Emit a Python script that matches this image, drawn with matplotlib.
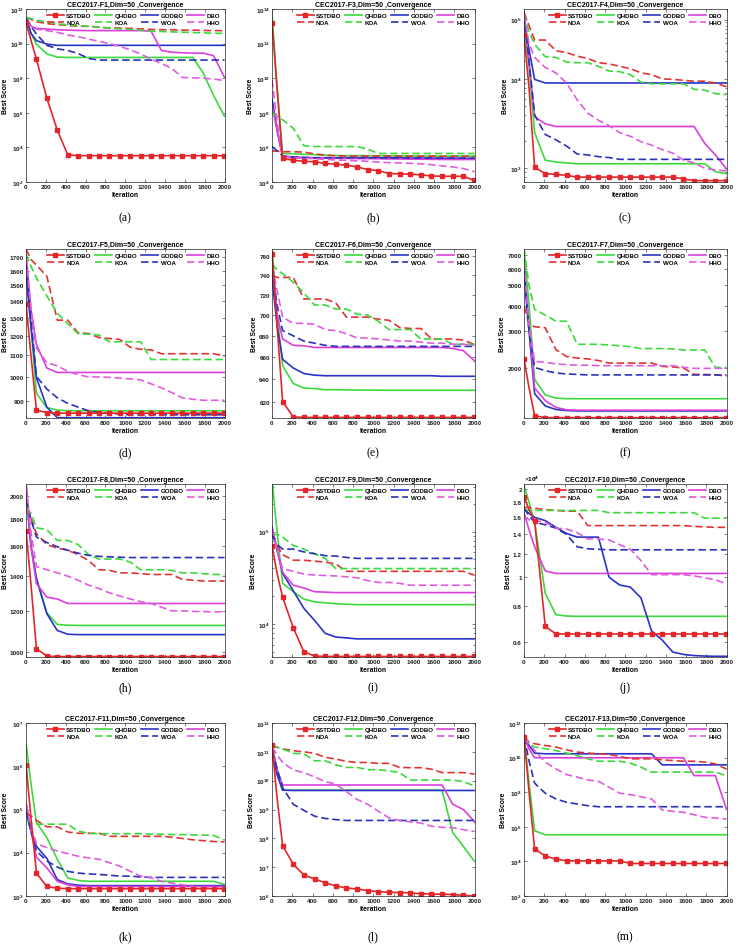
import numpy as np
import matplotlib
matplotlib.use('Agg')
import matplotlib.pyplot as plt
from matplotlib.ticker import FixedLocator, FuncFormatter, NullLocator

plt.rcParams['font.family'] = ['Liberation Sans', 'DejaVu Sans']
plt.rcParams['mathtext.fontset'] = 'custom'
plt.rcParams['mathtext.rm'] = 'Liberation Sans'
plt.rcParams['mathtext.bf'] = 'Liberation Sans:bold'

# ---------------- data ----------------
ITER = [1, 50, 105, 210, 315, 420, 525, 630, 735, 840, 945, 1050, 1155, 1260,
        1365, 1470, 1575, 1680, 1785, 1890, 1995, 2000]
ALGOS = ['SSTDBO', 'QHDBO', 'GODBO', 'DBO', 'NOA', 'KOA', 'WOA', 'HHO']
LEGEND_ORDER = ['SSTDBO', 'NOA', 'QHDBO', 'KOA', 'GODBO', 'WOA', 'DBO', 'HHO']

# F1 (log10 of best score)
F1_SSTDBO = [11.2, 10.2, 9.1, 6.85, 5.0, 3.58, 3.52, 3.52, 3.52, 3.52, 3.52, 3.52, 3.52, 3.52, 3.52, 3.52, 3.52, 3.52, 3.52, 3.52, 3.52, 3.52]
F1_QHDBO = [11.5, 10.6, 9.97, 9.4, 9.22, 9.2, 9.2, 9.2, 9.2, 9.2, 9.2, 9.2, 9.2, 9.2, 9.2, 9.2, 9.2, 9.2, 8.3, 7.0, 5.85, 5.8]
F1_GODBO = [11.5, 10.6, 10.17, 9.97, 9.9, 9.9, 9.9, 9.9, 9.9, 9.9, 9.9, 9.9, 9.9, 9.9, 9.9, 9.9, 9.9, 9.9, 9.9, 9.9, 9.9, 9.9]
F1_DBO = [11.5, 11.0, 10.88, 10.84, 10.8, 10.78, 10.76, 10.75, 10.75, 10.75, 10.75, 10.75, 10.75, 10.72, 9.6, 9.5, 9.47, 9.45, 9.45, 9.3, 8.1, 8.05]
F1_NOA = [11.5, 11.4, 11.27, 11.15, 11.1, 11.05, 11.0, 11.0, 10.95, 10.9, 10.9, 10.88, 10.85, 10.82, 10.8, 10.8, 10.78, 10.78, 10.76, 10.75, 10.75, 10.75]
F1_KOA = [11.5, 11.45, 11.35, 11.25, 11.15, 11.08, 11.03, 11.0, 10.95, 10.9, 10.85, 10.82, 10.78, 10.72, 10.7, 10.68, 10.66, 10.64, 10.62, 10.6, 10.59, 10.59]
F1_WOA = [11.45, 11.0, 10.55, 9.9, 9.7, 9.6, 9.43, 9.14, 9.05, 9.05, 9.05, 9.05, 9.05, 9.05, 9.05, 9.05, 9.05, 9.05, 9.05, 9.05, 9.05, 9.05]
F1_HHO = [11.3, 11.0, 10.84, 10.75, 10.65, 10.5, 10.4, 10.26, 10.13, 10.0, 9.84, 9.64, 9.4, 9.1, 8.85, 8.56, 8.04, 8.02, 8.0, 7.95, 7.87, 7.86]

# F3 (log10)
F3_SSTDBO = [13.18, 9.4, 5.36, 5.26, 5.2, 5.17, 5.07, 5.03, 4.97, 4.87, 4.72, 4.66, 4.49, 4.47, 4.45, 4.41, 4.35, 4.33, 4.33, 4.33, 4.1, 4.08]
F3_QHDBO = [13.7, 9.5, 5.65, 5.63, 5.6, 5.58, 5.55, 5.53, 5.52, 5.52, 5.52, 5.52, 5.51, 5.51, 5.51, 5.5, 5.5, 5.5, 5.5, 5.5, 5.5, 5.5]
F3_GODBO = [8.8, 7.0, 5.45, 5.42, 5.4, 5.4, 5.4, 5.4, 5.4, 5.4, 5.4, 5.4, 5.4, 5.4, 5.38, 5.38, 5.38, 5.37, 5.37, 5.36, 5.36, 5.36]
F3_DBO = [8.4, 7.0, 5.5, 5.45, 5.42, 5.4, 5.4, 5.38, 5.36, 5.35, 5.35, 5.34, 5.33, 5.33, 5.32, 5.32, 5.31, 5.3, 5.3, 5.3, 5.3, 5.3]
F3_NOA = [5.8, 5.78, 5.75, 5.75, 5.73, 5.62, 5.55, 5.52, 5.5, 5.5, 5.5, 5.5, 5.5, 5.49, 5.49, 5.49, 5.49, 5.48, 5.48, 5.48, 5.48, 5.48]
F3_KOA = [8.0, 7.8, 7.6, 7.1, 6.1, 6.05, 6.05, 6.05, 6.05, 6.05, 5.9, 5.65, 5.65, 5.65, 5.65, 5.65, 5.65, 5.65, 5.65, 5.65, 5.65, 5.65]
F3_WOA = [6.05, 5.8, 5.5, 5.45, 5.42, 5.4, 5.4, 5.4, 5.4, 5.4, 5.4, 5.4, 5.39, 5.39, 5.39, 5.39, 5.38, 5.38, 5.38, 5.38, 5.38, 5.38]
F3_HHO = [9.9, 7.5, 5.45, 5.4, 5.37, 5.35, 5.3, 5.28, 5.25, 5.22, 5.2, 5.15, 5.12, 5.1, 5.08, 5.05, 5.0, 4.93, 4.87, 4.78, 4.6, 4.58]

# F4 (log10)
F4_SSTDBO = [4.74, 3.9, 3.01, 2.94, 2.93, 2.92, 2.9, 2.9, 2.9, 2.9, 2.9, 2.9, 2.9, 2.9, 2.9, 2.9, 2.88, 2.86, 2.86, 2.86, 2.86, 2.86]
F4_QHDBO = [4.95, 4.2, 3.4, 3.09, 3.07, 3.06, 3.05, 3.05, 3.05, 3.05, 3.05, 3.05, 3.05, 3.05, 3.05, 3.05, 3.05, 3.05, 3.05, 2.96, 2.94, 2.94]
F4_GODBO = [5.0, 4.5, 4.0, 3.96, 3.96, 3.96, 3.96, 3.96, 3.96, 3.96, 3.96, 3.96, 3.96, 3.96, 3.96, 3.96, 3.96, 3.96, 3.96, 3.96, 3.96, 3.96]
F4_DBO = [5.1, 4.3, 3.58, 3.5, 3.47, 3.47, 3.47, 3.47, 3.47, 3.47, 3.47, 3.47, 3.47, 3.47, 3.47, 3.47, 3.47, 3.47, 3.28, 3.15, 3.0, 2.99]
F4_NOA = [5.12, 4.9, 4.66, 4.66, 4.48, 4.45, 4.39, 4.35, 4.28, 4.26, 4.22, 4.18, 4.11, 4.08, 4.01, 4.0, 3.99, 3.98, 3.98, 3.96, 3.92, 3.91]
F4_KOA = [5.1, 4.8, 4.59, 4.38, 4.37, 4.29, 4.28, 4.28, 4.22, 4.14, 4.13, 4.08, 3.97, 3.95, 3.95, 3.95, 3.95, 3.89, 3.88, 3.84, 3.83, 3.83]
F4_WOA = [5.1, 4.3, 3.6, 3.38, 3.32, 3.25, 3.16, 3.15, 3.13, 3.12, 3.1, 3.1, 3.1, 3.1, 3.1, 3.1, 3.1, 3.1, 3.1, 3.1, 3.1, 3.1]
F4_HHO = [5.1, 4.6, 4.37, 4.2, 4.11, 3.96, 3.77, 3.62, 3.54, 3.48, 3.4, 3.36, 3.3, 3.26, 3.21, 3.17, 3.09, 3.06, 3.0, 2.98, 2.97, 2.97]

# F5 (best score)
F5_SSTDBO = [1380, 1100, 864, 854, 852, 852, 852, 852, 852, 852, 852, 852, 852, 852, 852, 852, 852, 852, 852, 852, 852, 852]
F5_QHDBO = [1650, 1250, 930, 873, 864, 861, 861, 861, 861, 861, 861, 861, 861, 861, 861, 861, 861, 861, 861, 861, 861, 861]
F5_GODBO = [1560, 1250, 997, 875, 835, 835, 835, 835, 835, 835, 835, 835, 835, 835, 835, 835, 835, 835, 835, 835, 835, 835]
F5_DBO = [1720, 1350, 1155, 1040, 1020, 1020, 1020, 1020, 1020, 1020, 1020, 1020, 1020, 1020, 1020, 1020, 1020, 1020, 1020, 1020, 1020, 1020]
F5_NOA = [1760, 1680, 1640, 1560, 1285, 1285, 1215, 1212, 1190, 1185, 1180, 1140, 1130, 1127, 1108, 1108, 1108, 1108, 1108, 1108, 1097, 1095]
F5_KOA = [1720, 1630, 1550, 1430, 1325, 1265, 1210, 1208, 1203, 1168, 1168, 1168, 1168, 1080, 1080, 1080, 1080, 1080, 1080, 1080, 1080, 1080]
F5_WOA = [1630, 1300, 1002, 948, 912, 890, 875, 861, 855, 851, 849, 846, 846, 846, 846, 846, 846, 846, 846, 846, 846, 846]
F5_HHO = [1690, 1350, 1137, 1065, 1050, 1025, 1010, 1000, 1000, 998, 995, 991, 987, 970, 953, 933, 912, 906, 902, 902, 902, 902]

# F6
F6_SSTDBO = [763, 690, 620, 607, 606.5, 606.5, 606.5, 606.5, 606.5, 606.5, 606.5, 606.5, 606.5, 606.5, 606.5, 606.5, 606.5, 606.5, 606.5, 606.5, 606.5, 606.5]
F6_QHDBO = [768, 700, 652, 636, 632, 631.5, 630.5, 630.5, 630.3, 630.2, 630.2, 630.1, 630, 630, 630, 630, 630, 630, 630, 630, 630, 630]
F6_GODBO = [737, 690, 658, 650, 645, 643.5, 643, 643, 643, 643, 643, 643, 643, 643, 643, 643, 643, 642.5, 642.5, 642.5, 642.5, 642.5]
F6_DBO = [752, 700, 677, 671, 670.5, 669, 669, 669, 669, 669, 669, 669, 669, 669, 669, 669, 669, 669, 668, 666, 657, 656]
F6_NOA = [740, 738, 738, 738, 716, 716, 716, 712, 698, 698, 698, 696, 695, 688, 687, 687, 677, 677, 677, 676, 672, 671]
F6_KOA = [752, 746, 742, 733, 722, 710, 710, 706, 706, 701, 700, 694, 686, 686, 686, 677, 677, 677, 672, 672, 672, 672]
F6_WOA = [745, 710, 685, 680, 675, 673, 671, 670, 670, 670, 670, 670, 670, 670, 670, 670, 670, 670, 670, 670, 670, 670]
F6_HHO = [750, 725, 698, 692, 692, 691, 686, 685, 682, 678, 678, 677, 676, 675, 675, 674, 673, 673, 672, 672, 671, 671]

# F7
F7_SSTDBO = [2200, 1600, 1177, 1150, 1150, 1150, 1150, 1150, 1150, 1150, 1150, 1150, 1150, 1150, 1150, 1150, 1150, 1150, 1150, 1150, 1150, 1150]
F7_QHDBO = [7500, 4000, 1760, 1480, 1430, 1420, 1420, 1420, 1420, 1420, 1420, 1420, 1420, 1420, 1420, 1420, 1420, 1420, 1420, 1420, 1420, 1420]
F7_GODBO = [5550, 3000, 1500, 1310, 1260, 1245, 1240, 1240, 1240, 1240, 1240, 1240, 1240, 1240, 1240, 1240, 1240, 1240, 1240, 1240, 1240, 1240]
F7_DBO = [6200, 3200, 1600, 1390, 1290, 1255, 1250, 1250, 1250, 1250, 1250, 1250, 1250, 1250, 1250, 1250, 1250, 1250, 1250, 1250, 1250, 1250]
F7_NOA = [3970, 3270, 3160, 3125, 2450, 2270, 2230, 2210, 2170, 2110, 2110, 2110, 2110, 2110, 2035, 2020, 2000, 1860, 1860, 1850, 1830, 1830]
F7_KOA = [7500, 5000, 3830, 3600, 3360, 3360, 2600, 2600, 2600, 2580, 2560, 2530, 2480, 2480, 2480, 2470, 2440, 2440, 2440, 2010, 2010, 2010]
F7_WOA = [6000, 3000, 2010, 1940, 1890, 1870, 1860, 1850, 1850, 1850, 1850, 1850, 1850, 1850, 1850, 1850, 1850, 1850, 1850, 1850, 1850, 1850]
F7_HHO = [6400, 3200, 2150, 2130, 2090, 2075, 2060, 2060, 2050, 2050, 2050, 2050, 2050, 2050, 2050, 2050, 2015, 1990, 1990, 1990, 1990, 1990]

# F8
F8_SSTDBO = [1710, 1350, 1015, 982, 980, 980, 980, 980, 980, 980, 980, 980, 980, 980, 980, 980, 980, 980, 980, 980, 980, 980]
F8_QHDBO = [1990, 1600, 1385, 1190, 1130, 1126, 1125, 1125, 1125, 1125, 1125, 1125, 1125, 1125, 1125, 1125, 1125, 1125, 1125, 1125, 1125, 1125]
F8_GODBO = [2070, 1600, 1385, 1185, 1100, 1082, 1080, 1080, 1080, 1080, 1080, 1080, 1080, 1080, 1080, 1080, 1080, 1080, 1080, 1080, 1080, 1080]
F8_DBO = [2100, 1600, 1355, 1275, 1265, 1240, 1240, 1240, 1240, 1240, 1240, 1240, 1240, 1240, 1240, 1240, 1240, 1240, 1240, 1240, 1240, 1240]
F8_NOA = [1890, 1810, 1690, 1610, 1585, 1570, 1540, 1500, 1440, 1436, 1420, 1420, 1415, 1410, 1410, 1410, 1380, 1375, 1370, 1370, 1370, 1370]
F8_KOA = [1890, 1850, 1735, 1720, 1640, 1640, 1610, 1540, 1510, 1510, 1510, 1490, 1440, 1440, 1440, 1435, 1420, 1420, 1415, 1410, 1410, 1410]
F8_WOA = [1960, 1800, 1665, 1625, 1595, 1570, 1550, 1535, 1528, 1525, 1522, 1520, 1520, 1520, 1520, 1520, 1520, 1520, 1520, 1520, 1520, 1520]
F8_HHO = [2100, 1700, 1460, 1440, 1420, 1400, 1375, 1345, 1325, 1300, 1282, 1265, 1250, 1240, 1220, 1200, 1200, 1197, 1196, 1195, 1195, 1195]

# F9 (log10)
F9_SSTDBO = [4.84, 4.55, 4.29, 3.96, 3.7, 3.655, 3.65, 3.65, 3.65, 3.65, 3.65, 3.65, 3.65, 3.65, 3.65, 3.65, 3.65, 3.65, 3.65, 3.65, 3.65, 3.65]
F9_QHDBO = [5.55, 5.0, 4.44, 4.35, 4.27, 4.24, 4.23, 4.22, 4.215, 4.21, 4.21, 4.21, 4.21, 4.21, 4.21, 4.21, 4.21, 4.21, 4.21, 4.21, 4.21, 4.21]
F9_GODBO = [5.05, 4.8, 4.55, 4.36, 4.17, 4.04, 3.9, 3.86, 3.85, 3.84, 3.84, 3.84, 3.84, 3.84, 3.84, 3.84, 3.84, 3.84, 3.84, 3.84, 3.84, 3.84]
F9_DBO = [5.03, 4.8, 4.56, 4.42, 4.39, 4.35, 4.345, 4.34, 4.34, 4.34, 4.34, 4.34, 4.34, 4.34, 4.34, 4.34, 4.34, 4.34, 4.34, 4.34, 4.34, 4.34]
F9_NOA = [4.96, 4.85, 4.75, 4.69, 4.69, 4.68, 4.67, 4.65, 4.57, 4.57, 4.57, 4.57, 4.57, 4.57, 4.57, 4.57, 4.57, 4.57, 4.57, 4.57, 4.53, 4.53]
F9_KOA = [4.96, 4.97, 4.94, 4.85, 4.81, 4.76, 4.71, 4.6, 4.6, 4.6, 4.6, 4.6, 4.6, 4.6, 4.6, 4.6, 4.6, 4.6, 4.6, 4.6, 4.6, 4.6]
F9_WOA = [4.96, 4.86, 4.81, 4.81, 4.78, 4.76, 4.74, 4.735, 4.72, 4.71, 4.71, 4.71, 4.71, 4.71, 4.71, 4.71, 4.71, 4.71, 4.71, 4.71, 4.71, 4.71]
F9_HHO = [5.03, 4.8, 4.6, 4.57, 4.54, 4.53, 4.525, 4.52, 4.51, 4.5, 4.47, 4.45, 4.45, 4.44, 4.42, 4.42, 4.42, 4.42, 4.42, 4.42, 4.42, 4.42]

# F10 (best score)
F10_SSTDBO = [18800, 17000, 15500, 6800, 6400, 6400, 6400, 6400, 6400, 6400, 6400, 6400, 6400, 6400, 6400, 6400, 6400, 6400, 6400, 6400, 6400, 6400]
F10_QHDBO = [20500, 18000, 15400, 8800, 7450, 7370, 7350, 7350, 7350, 7350, 7350, 7350, 7350, 7350, 7350, 7350, 7350, 7350, 7350, 7350, 7350, 7350]
F10_GODBO = [17000, 16500, 16000, 15600, 14800, 14100, 13700, 13700, 13700, 10000, 9400, 9250, 8500, 6550, 6100, 5550, 5450, 5400, 5380, 5370, 5370, 5370]
F10_DBO = [16600, 14500, 12700, 10500, 10300, 10300, 10300, 10300, 10300, 10300, 10300, 10300, 10300, 10300, 10300, 10300, 10300, 10300, 10300, 10300, 10300, 10300]
F10_NOA = [17300, 17300, 17200, 17000, 16900, 16800, 16800, 15000, 15000, 15000, 15000, 15000, 15000, 15000, 15000, 15000, 15000, 14900, 14850, 14800, 14800, 14800]
F10_KOA = [17000, 16900, 16900, 16900, 16900, 16900, 16900, 16900, 16900, 16600, 16600, 16600, 16600, 16600, 16600, 16600, 16600, 16600, 15900, 15900, 15900, 15900]
F10_WOA = [17200, 16200, 15400, 15100, 14700, 14000, 12700, 12500, 12450, 12400, 12400, 12400, 12400, 12400, 12400, 12400, 12400, 12400, 12400, 12400, 12400, 12400]
F10_HHO = [16200, 15700, 15600, 15400, 14700, 14600, 14200, 13500, 13500, 13400, 12900, 12450, 11400, 10200, 10200, 10200, 10200, 10100, 9950, 9800, 9500, 9500]

# F11 (log10)
F11_SSTDBO = [6.04, 4.8, 3.53, 3.22, 3.18, 3.17, 3.17, 3.17, 3.17, 3.17, 3.17, 3.17, 3.17, 3.17, 3.17, 3.17, 3.17, 3.17, 3.17, 3.17, 3.17, 3.17]
F11_QHDBO = [6.52, 5.6, 4.7, 4.35, 3.85, 3.42, 3.36, 3.34, 3.34, 3.34, 3.34, 3.34, 3.34, 3.34, 3.34, 3.34, 3.34, 3.34, 3.34, 3.34, 3.27, 3.27]
F11_GODBO = [4.93, 4.5, 4.15, 3.87, 3.38, 3.28, 3.25, 3.24, 3.24, 3.24, 3.24, 3.24, 3.24, 3.24, 3.24, 3.24, 3.24, 3.24, 3.24, 3.24, 3.24, 3.24]
F11_DBO = [5.16, 4.5, 3.9, 3.65, 3.34, 3.26, 3.22, 3.22, 3.22, 3.22, 3.22, 3.22, 3.22, 3.22, 3.22, 3.22, 3.22, 3.22, 3.22, 3.22, 3.22, 3.22]
F11_NOA = [4.92, 4.85, 4.75, 4.6, 4.6, 4.48, 4.45, 4.45, 4.45, 4.38, 4.38, 4.38, 4.38, 4.38, 4.38, 4.36, 4.33, 4.3, 4.28, 4.26, 4.25, 4.25]
F11_KOA = [4.75, 4.68, 4.66, 4.66, 4.66, 4.66, 4.5, 4.45, 4.44, 4.44, 4.44, 4.44, 4.44, 4.43, 4.43, 4.42, 4.42, 4.41, 4.41, 4.4, 4.3, 4.28]
F11_WOA = [4.97, 4.5, 4.04, 3.81, 3.67, 3.57, 3.53, 3.51, 3.5, 3.48, 3.46, 3.46, 3.44, 3.43, 3.43, 3.43, 3.43, 3.43, 3.43, 3.43, 3.43, 3.43]
F11_HHO = [5.12, 4.6, 4.21, 4.12, 4.04, 3.98, 3.92, 3.88, 3.85, 3.77, 3.69, 3.57, 3.46, 3.42, 3.34, 3.3, 3.26, 3.22, 3.2, 3.19, 3.17, 3.17]

# F12 (log10)
F12_SSTDBO = [11.22, 9.4, 7.75, 7.1, 6.73, 6.59, 6.46, 6.35, 6.28, 6.24, 6.19, 6.15, 6.13, 6.12, 6.11, 6.08, 6.07, 6.06, 6.05, 6.02, 6.0, 6.0]
F12_QHDBO = [11.22, 10.4, 9.67, 9.67, 9.67, 9.67, 9.67, 9.67, 9.67, 9.67, 9.67, 9.67, 9.67, 9.67, 9.67, 9.67, 9.67, 9.67, 8.2, 7.72, 7.22, 7.2]
F12_GODBO = [10.93, 10.2, 9.67, 9.66, 9.66, 9.66, 9.66, 9.66, 9.66, 9.66, 9.66, 9.66, 9.66, 9.66, 9.66, 9.66, 9.66, 9.66, 9.66, 9.66, 9.66, 9.66]
F12_DBO = [11.16, 10.4, 9.85, 9.85, 9.85, 9.85, 9.85, 9.85, 9.85, 9.85, 9.85, 9.85, 9.85, 9.85, 9.85, 9.85, 9.85, 9.85, 9.18, 9.0, 8.6, 8.55]
F12_NOA = [11.22, 11.16, 11.1, 11.04, 11.0, 10.95, 10.81, 10.75, 10.67, 10.63, 10.63, 10.6, 10.6, 10.46, 10.45, 10.45, 10.4, 10.28, 10.28, 10.28, 10.23, 10.23]
F12_KOA = [11.22, 11.16, 11.1, 10.95, 10.93, 10.69, 10.69, 10.55, 10.46, 10.46, 10.38, 10.38, 10.34, 10.28, 10.02, 10.02, 10.02, 10.02, 10.02, 9.97, 9.82, 9.8]
F12_WOA = [11.04, 10.4, 9.76, 9.18, 8.97, 8.77, 8.69, 8.65, 8.62, 8.62, 8.62, 8.62, 8.62, 8.62, 8.62, 8.62, 8.62, 8.62, 8.62, 8.62, 8.62, 8.62]
F12_HHO = [11.16, 10.9, 10.63, 10.37, 10.28, 10.13, 9.97, 9.88, 9.62, 9.35, 9.18, 8.94, 8.71, 8.62, 8.57, 8.53, 8.42, 8.38, 8.37, 8.3, 8.24, 8.23]

# F13 (log10)
F13_SSTDBO = [11.19, 8.0, 4.71, 4.32, 4.13, 4.03, 4.03, 4.03, 4.03, 4.03, 4.03, 3.88, 3.88, 3.88, 3.88, 3.88, 3.88, 3.88, 3.88, 3.88, 3.88, 3.88]
F13_QHDBO = [11.19, 8.5, 5.77, 5.54, 5.54, 5.54, 5.54, 5.54, 5.54, 5.54, 5.54, 5.54, 5.54, 5.54, 5.54, 5.54, 5.54, 5.54, 5.54, 5.54, 5.54, 5.54]
F13_GODBO = [11.19, 10.7, 10.26, 10.22, 10.22, 10.22, 10.22, 10.22, 10.22, 10.22, 10.22, 10.22, 10.22, 10.22, 9.58, 9.58, 9.58, 9.58, 9.58, 9.58, 9.58, 9.58]
F13_DBO = [11.19, 10.5, 9.99, 9.99, 9.99, 9.99, 9.99, 9.99, 9.99, 9.99, 9.99, 9.99, 9.99, 9.99, 9.99, 9.99, 9.99, 8.96, 8.96, 8.96, 7.1, 7.0]
F13_NOA = [11.19, 10.9, 10.8, 10.7, 10.61, 10.45, 10.32, 10.26, 10.22, 10.18, 10.07, 9.93, 9.93, 9.93, 9.87, 9.83, 9.79, 9.79, 9.74, 9.64, 9.35, 9.33]
F13_KOA = [11.19, 10.8, 10.61, 10.51, 10.41, 10.26, 10.12, 9.93, 9.79, 9.79, 9.79, 9.68, 9.45, 9.16, 9.16, 9.16, 9.16, 9.16, 9.16, 9.16, 8.96, 8.95]
F13_WOA = [11.19, 9.8, 8.52, 7.94, 7.61, 7.42, 7.32, 7.22, 7.16, 7.16, 7.16, 7.16, 7.16, 7.16, 7.16, 7.16, 7.16, 7.16, 7.16, 7.16, 7.16, 7.16]
F13_HHO = [11.19, 10.8, 10.41, 9.74, 9.35, 9.02, 8.87, 8.71, 8.63, 8.29, 7.94, 7.86, 7.74, 7.61, 6.97, 6.89, 6.84, 6.7, 6.55, 6.51, 6.45, 6.44]

TITLES = ['F1', 'F3', 'F4', 'F5', 'F6', 'F7', 'F8', 'F9', 'F10', 'F11', 'F12', 'F13']
SUBLABELS = ['(a)', '(b)', '(c)', '(d)', '(e)', '(f)', '(h)', '(i)', '(j)', '(k)', '(l)', '(m)']

F5_TICKS = [900, 1000, 1100, 1200, 1300, 1400, 1500, 1600, 1700]
F6_TICKS = [620, 640, 660, 680, 700, 720, 740, 760]
F7_TICKS = [2000, 3000, 4000, 5000, 6000, 7000]
F8_TICKS = [1000, 1200, 1400, 1600, 1800, 2000]
F10_TICKS = [6000, 8000, 10000, 12000, 14000, 16000, 18000, 20000]

# ---------------- build table ----------------
G = globals()
def series(fn, is_log):
    out = {}
    for a in ALGOS:
        arr = np.array(G[f'{fn}_{a}'], dtype=float)
        out[a] = np.power(10.0, arr) if is_log else arr
    return out

CFG = {
    'F1': dict(log=True, ylim=(1e2, 1e12), dec=[2, 4, 6, 8, 10, 12]),
    'F3': dict(log=True, ylim=(1e4, 1e14), dec=[4, 6, 8, 10, 12, 14]),
    'F4': dict(log=True, ylim=(10 ** 2.845, 10 ** 5.18), dec=[3, 4, 5], func=True),
    'F5': dict(log=False, ylim=(834, 1760), ticks=F5_TICKS),
    'F6': dict(log=False, ylim=(606, 768), ticks=F6_TICKS),
    'F7': dict(log=False, ylim=(1146, 7500), ticks=F7_TICKS),
    'F8': dict(log=False, ylim=(978, 2106), ticks=F8_TICKS),
    'F9': dict(log=True, ylim=(10 ** 3.644, 10 ** 5.514), dec=[4, 5], minor=True),
    'F10': dict(log=False, ylim=(5340, 20800), ticks=F10_TICKS, scale1e4=True),
    'F11': dict(log=True, ylim=(1e3, 1e7), dec=[3, 4, 5, 6, 7]),
    'F12': dict(log=True, ylim=(1e6, 1e12), dec=[6, 7, 8, 9, 10, 11, 12]),
    'F13': dict(log=True, ylim=(1e2, 1e12), dec=[2, 4, 6, 8, 10, 12]),
}

DASH = (0, (4.5, 2.2))
STYLE = {
    'SSTDBO': dict(color='#e3262a', ls='-', marker='s', ms=3.0, mfc='#e3262a', mec='#e3262a'),
    'QHDBO': dict(color='#3cd93c', ls='-'),
    'GODBO': dict(color='#2a33c8', ls='-'),
    'DBO': dict(color='#dc3fdc', ls='-'),
    'NOA': dict(color='#e03434', ls=DASH),
    'KOA': dict(color='#3cd93c', ls=DASH),
    'WOA': dict(color='#2a33b8', ls=DASH),
    'HHO': dict(color='#e05ce0', ls=DASH),
}
MARK_IDX = [0] + list(range(2, 21))

def f4_fwd(v):
    t = np.log10(np.clip(np.asarray(v, dtype=float), 1e-12, None))
    return np.interp(t, [0, 3, 4, 5, 9], [0, 3, 4, 4.672, 7.36])

def f4_inv(s):
    return np.power(10.0, np.interp(s, [0, 3, 4, 4.672, 7.36], [0, 3, 4, 5, 9]))

dec_fmt = FuncFormatter(lambda v, p: r'$\mathbf{10^{%d}}$' % int(round(np.log10(v))))

# ---------------- figure ----------------
W, H = 739, 945
fig = plt.figure(figsize=(W / 100, H / 100), dpi=100)
COL_L = [26.0, 272, 524]
AX_W = [198.5, 202.5, 202.5]
ROWS = [(10, 183), (250, 419), (485, 658), (724, 897)]
LABEL_Y = [218, 453, 688, 937]
FS_TICK = 4.6
FS_LAB = 4.9
FS_TITLE = 5.0
FS_LEG = 4.4
LW = 1.2

for i, fn in enumerate(TITLES):
    r, c = divmod(i, 3)
    top, bot = ROWS[r]
    ax = fig.add_axes([COL_L[c] / W, 1 - bot / H, AX_W[c] / W, (bot - top) / H])
    cfg = CFG[fn]
    data = series(fn, cfg['log'] if 'dec' in cfg else False)
    if cfg.get('func'):
        ax.set_yscale('function', functions=(f4_fwd, f4_inv))
    else:
        ax.set_yscale('log')
    handles = {}
    for a in ALGOS[1:] + ALGOS[:1]:
        st = dict(STYLE[a])
        kw = dict(color=st.pop('color'), linestyle=st.pop('ls'), lw=LW)
        if a == 'SSTDBO':
            kw.update(st, markevery=MARK_IDX)
        h, = ax.plot(ITER, data[a], label=a, **kw)
        handles[a] = h
    ax.set_xlim(0, 2000)
    ax.set_ylim(*cfg['ylim'])
    ax.xaxis.set_major_locator(FixedLocator(list(range(0, 2001, 200))))
    ax.xaxis.set_major_formatter(FuncFormatter(lambda v, p: '%d' % v))
    if 'dec' in cfg:
        ax.yaxis.set_major_locator(FixedLocator([10.0 ** d for d in cfg['dec']]))
        ax.yaxis.set_major_formatter(dec_fmt)
        if cfg.get('minor') or cfg.get('func'):
            lo, hi = cfg['ylim']
            mins = [m * 10.0 ** e for e in range(1, 7) for m in range(2, 10)
                    if lo <= m * 10.0 ** e <= hi]
            ax.yaxis.set_minor_locator(FixedLocator(mins))
        else:
            ax.yaxis.set_minor_locator(NullLocator())
    else:
        ax.yaxis.set_major_locator(FixedLocator(cfg['ticks']))
        if cfg.get('scale1e4'):
            ax.yaxis.set_major_formatter(FuncFormatter(lambda v, p: '%g' % (v / 1e4)))
            ax.text(0.0, 1.004, r'$\times\mathbf{10^{4}}$', transform=ax.transAxes,
                    fontsize=FS_TICK, ha='left', va='bottom')
        else:
            ax.yaxis.set_major_formatter(FuncFormatter(lambda v, p: '%d' % v))
        ax.yaxis.set_minor_locator(NullLocator())
    ax.xaxis.set_minor_locator(NullLocator())
    ax.tick_params(which='both', direction='in', top=True, right=True,
                   labelsize=FS_TICK, width=0.4, pad=1.5, colors='#202020')
    ax.tick_params(which='major', length=2.2)
    ax.tick_params(which='minor', length=1.2)
    for lab in ax.get_xticklabels() + ax.get_yticklabels():
        lab.set_fontweight('bold')
    for sp in ax.spines.values():
        sp.set_linewidth(0.5)
        sp.set_color('#262626')
    ax.set_title(f'CEC2017-{fn},Dim=50 ,Convergence', fontsize=FS_TITLE,
                 fontweight='bold', pad=2)
    ax.set_xlabel('Iteration', fontsize=FS_LAB, fontweight='bold', labelpad=1.5)
    ax.set_ylabel('Best Score', fontsize=FS_LAB, fontweight='bold', labelpad=1.0)
    if c == 0:
        ycen = 1 - (top + bot) / 2 / H
        ax.yaxis.set_label_coords(8.6 / W, ycen, transform=fig.transFigure)
    ax.legend([handles[a] for a in LEGEND_ORDER], LEGEND_ORDER, ncol=4,
              loc='upper right', bbox_to_anchor=(0.985, 0.985), frameon=False,
              prop=dict(size=FS_LEG, weight='bold'), handlelength=2.8,
              handletextpad=0.4, columnspacing=0.6, labelspacing=0.3,
              borderaxespad=0.0, borderpad=0.2)
    fig.text((COL_L[c] + AX_W[c] / 2) / W, 1 - LABEL_Y[r] / H, SUBLABELS[i],
             ha='center', va='center', fontsize=8.5, family='Liberation Serif')

fig.savefig('out.png', dpi=100)
